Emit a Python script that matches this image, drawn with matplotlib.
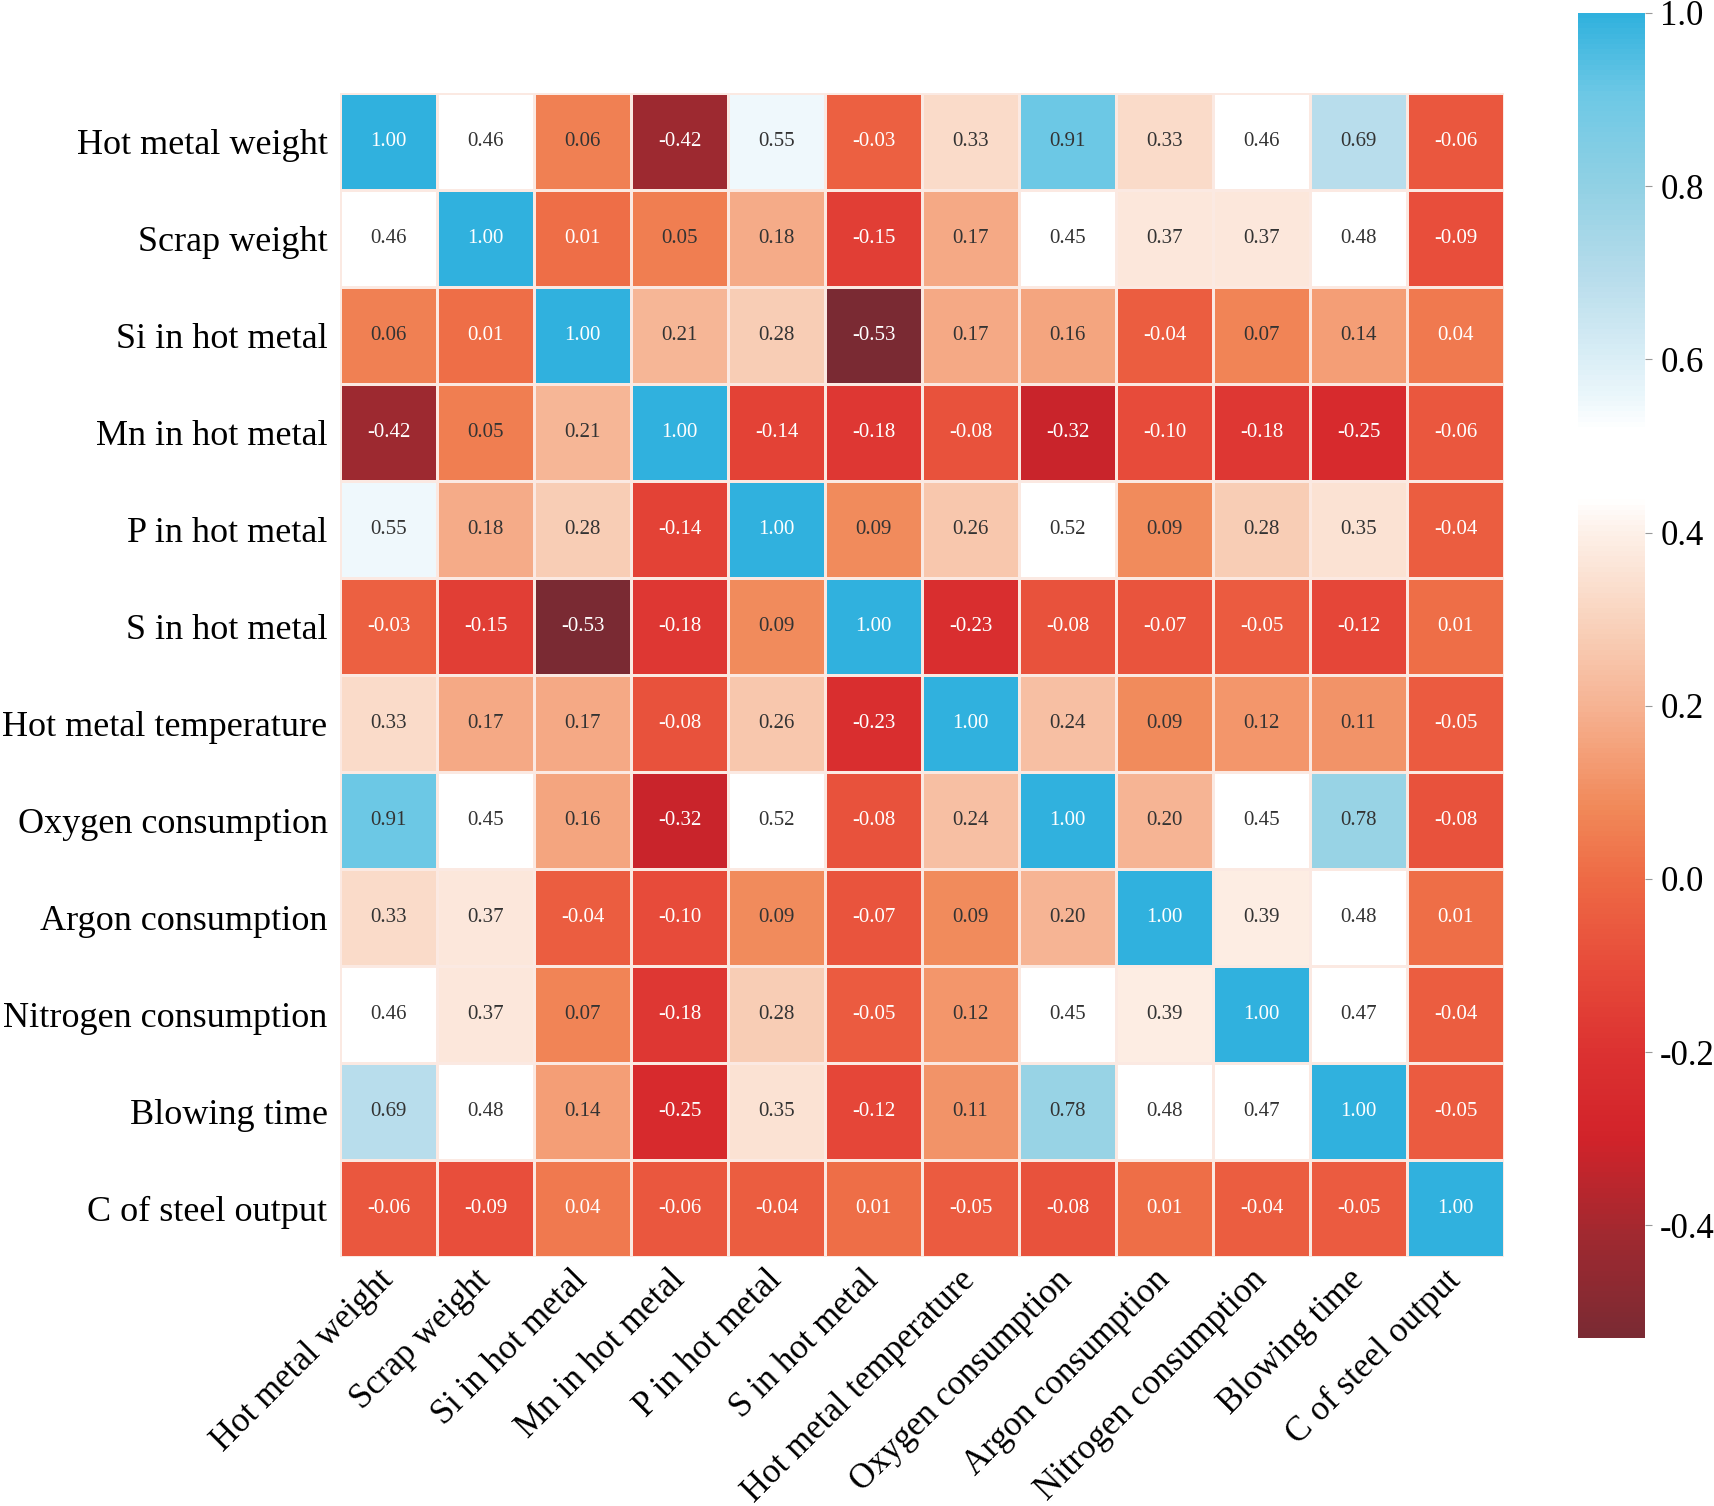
import numpy as np
import matplotlib
matplotlib.use("Agg")
import matplotlib.pyplot as plt
from matplotlib.colors import LinearSegmentedColormap, Normalize

# ─── Data ──────────────────────────────────────────────────────────────────────

labels = [
    "Hot metal weight", "Scrap weight", "Si in hot metal", "Mn in hot metal",
    "P in hot metal", "S in hot metal", "Hot metal temperature",
    "Oxygen consumption", "Argon consumption", "Nitrogen consumption",
    "Blowing time", "C of steel output",
]

corr = np.array([
    [1.00, 0.46, 0.06, -0.42, 0.55, -0.03, 0.33, 0.91, 0.33, 0.46, 0.69, -0.06],
    [0.46, 1.00, 0.01, 0.05, 0.18, -0.15, 0.17, 0.45, 0.37, 0.37, 0.48, -0.09],
    [0.06, 0.01, 1.00, 0.21, 0.28, -0.53, 0.17, 0.16, -0.04, 0.07, 0.14, 0.04],
    [-0.42, 0.05, 0.21, 1.00, -0.14, -0.18, -0.08, -0.32, -0.10, -0.18, -0.25, -0.06],
    [0.55, 0.18, 0.28, -0.14, 1.00, 0.09, 0.26, 0.52, 0.09, 0.28, 0.35, -0.04],
    [-0.03, -0.15, -0.53, -0.18, 0.09, 1.00, -0.23, -0.08, -0.07, -0.05, -0.12, 0.01],
    [0.33, 0.17, 0.17, -0.08, 0.26, -0.23, 1.00, 0.24, 0.09, 0.12, 0.11, -0.05],
    [0.91, 0.45, 0.16, -0.32, 0.52, -0.08, 0.24, 1.00, 0.20, 0.45, 0.78, -0.08],
    [0.33, 0.37, -0.04, -0.10, 0.09, -0.07, 0.09, 0.20, 1.00, 0.39, 0.48, 0.01],
    [0.46, 0.37, 0.07, -0.18, 0.28, -0.05, 0.12, 0.45, 0.39, 1.00, 0.47, -0.04],
    [0.69, 0.48, 0.14, -0.25, 0.35, -0.12, 0.11, 0.78, 0.48, 0.47, 1.00, -0.05],
    [-0.06, -0.09, 0.04, -0.06, -0.04, 0.01, -0.05, -0.08, 0.01, -0.04, -0.05, 1.00],
])

cbar_ticks = [-0.4, -0.2, 0.0, 0.2, 0.4, 0.6, 0.8, 1.0]

# ─── Colormap (value anchors) ──────────────────────────────────────────────────

VMIN, VMAX = -0.53, 1.0
anchors = [
    (-0.53, "#7a2a33"),
    (-0.42, "#9e2930"),
    (-0.30, "#d2232a"),
    (-0.20, "#dc3231"),
    (-0.10, "#e74c3a"),
    (0.00, "#ee6a45"),
    (0.08, "#f18858"),
    (0.20, "#f6b393"),
    (0.30, "#f9d3bd"),
    (0.40, "#fdf0e8"),
    (0.44, "#ffffff"),
    (0.52, "#ffffff"),
    (0.56, "#eaf6fb"),
    (0.70, "#b6dceb"),
    (0.80, "#92d1e4"),
    (0.91, "#6cc8e5"),
    (1.00, "#30b1de"),
]
cmap = LinearSegmentedColormap.from_list(
    "corr", [((v - VMIN) / (VMAX - VMIN), c) for v, c in anchors])
norm = Normalize(VMIN, VMAX)

plt.rcParams["font.family"] = ["Liberation Serif", "DejaVu Serif"]

# ─── Figure ────────────────────────────────────────────────────────────────────

fig = plt.figure(figsize=(17.14, 15.06), dpi=100)
ax = fig.add_axes([0.1978, 0.1653, 0.6803, 0.7729])
cax = fig.add_axes([0.9206, 0.1116, 0.0391, 0.8798])

n = len(labels)
mesh = ax.pcolormesh(corr, cmap=cmap, norm=norm,
                     edgecolors="#fbe9e2", linewidth=1.0)
ax.set_xlim(0, n)
ax.set_ylim(n, 0)
ax.set_aspect("equal")

for i in range(n):
    for j in range(n):
        v = corr[i, j]
        col = "white" if (v < 0.045 or v > 0.95) else "#333333"
        ax.text(j + 0.5, i + 0.5, f"{v:.2f}", ha="center", va="center",
                fontsize=15, color=col)

ax.set_xticks(np.arange(n) + 0.5)
ax.set_yticks(np.arange(n) + 0.5)
ax.set_xticklabels(labels, rotation=45, ha="right", va="center",
                   rotation_mode="anchor", fontsize=25)
ax.set_yticklabels(labels, fontsize=26)
ax.tick_params(axis="y", length=0, pad=9)
ax.tick_params(axis="x", length=0, pad=13)
for s in ax.spines.values():
    s.set_visible(False)

cb = fig.colorbar(mesh, cax=cax, ticks=cbar_ticks)
cb.outline.set_visible(False)
cb.ax.tick_params(labelsize=25, length=5, width=0.8, color="#999999", pad=6)
cb.ax.set_yticklabels([f"{t:.1f}" for t in cbar_ticks])

fig.savefig("out.png", dpi=100, facecolor="white")
